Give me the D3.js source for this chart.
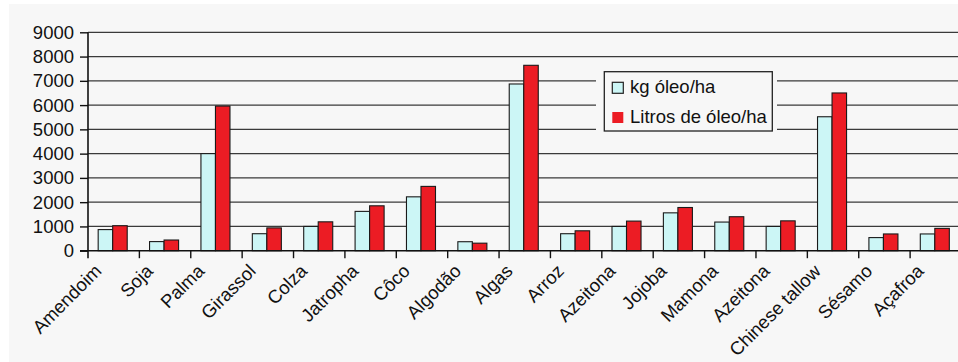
<!DOCTYPE html>
<html>
<head>
<meta charset="utf-8">
<script src="https://cdn.jsdelivr.net/npm/d3@7"></script>
<style>
  html, body { margin: 0; padding: 0; background: #ffffff; }
  svg { display: block; }
  text { font-family: "Liberation Sans", Arial, sans-serif; fill: #111; }
</style>
</head>
<body>
<svg id="chart" width="958" height="362"></svg>
<script>
// Culturas oleaginosas e rendimento de óleo por hectare
const categories = ["Amendoim", "Soja", "Palma", "Girassol", "Colza", "Jatropha", "Côco", "Algodão",
  "Algas", "Arroz", "Azeitona", "Jojoba", "Mamona", "Azeitona", "Chinese tallow", "Sésamo", "Açafroa"];
const seriesNames = ["kg óleo/ha", "Litros de óleo/ha"];
const kgOleo = [870, 375, 4000, 700, 1000, 1620, 2220, 370, 6870, 700, 1000, 1560, 1180, 1000, 5520, 540, 690];
const litrosOleo = [1030, 440, 5960, 940, 1190, 1850, 2650, 310, 7640, 820, 1220, 1780, 1400, 1230, 6500, 690, 920];
const yTicks = [0, 1000, 2000, 3000, 4000, 5000, 6000, 7000, 8000, 9000];

const colors = ["#ccf6f6", "#ec1c24"];
const series = [kgOleo, litrosOleo];

const svg = d3.select("#chart");
const W = 958, H = 362;

// fundo do gráfico
svg.append("rect").attr("x", 9).attr("y", 4).attr("width", W - 9).attr("height", H - 4)
  .attr("fill", "#f7f7f7");

const plotLeft = 88, plotRight = 961.5, plotTop = 32.3, plotBottom = 250.7;

const y = d3.scaleLinear().domain([0, 9000]).range([plotBottom, plotTop]);
const idx = categories.map((_, i) => i);
const x = d3.scaleBand().domain(idx).range([plotLeft, plotRight]).paddingInner(0).paddingOuter(0);
const xs = d3.scaleBand().domain([0, 1]).range([-1, x.bandwidth() - 1]).paddingInner(0).paddingOuter(0.77);

// linhas de grade
svg.append("g").selectAll("line").data(yTicks.filter(t => t > 0)).join("line")
  .attr("x1", plotLeft).attr("x2", plotRight)
  .attr("y1", d => y(d)).attr("y2", d => y(d))
  .attr("stroke", "#3a3a3a").attr("stroke-width", 1.3);

// eixo Y
const yAxis = d3.axisLeft(y).tickValues(yTicks).tickSize(8).tickPadding(6).tickFormat(d3.format("d"));
const gy = svg.append("g").attr("transform", `translate(${plotLeft},0)`).call(yAxis);
gy.select(".domain").remove();
gy.selectAll(".tick line").attr("stroke", "#111").attr("stroke-width", 1.4);
gy.selectAll(".tick text").attr("font-size", 18.5).attr("fill", "#111")
  .attr("font-family", "'Liberation Sans', Arial, sans-serif");
svg.append("line").attr("x1", plotLeft).attr("x2", plotLeft).attr("y1", plotTop).attr("y2", plotBottom + 7.5)
  .attr("stroke", "#111").attr("stroke-width", 1.6);

// legenda (fundo encobre as linhas de grade)
const lg = svg.append("g");
lg.append("rect").attr("x", 596).attr("y", 64).attr("width", 181).attr("height", 75).attr("fill", "#f7f7f7");
lg.append("rect").attr("x", 604.3).attr("y", 71.7).attr("width", 168).attr("height", 59.3)
  .attr("fill", "#f7f7f7").attr("stroke", "#222").attr("stroke-width", 1.3);
seriesNames.forEach((name, i) => {
  const cy = 87.8 + i * 29.7;
  lg.append("rect").attr("x", 612.3).attr("y", cy - 5.5).attr("width", 11).attr("height", 11)
    .attr("fill", colors[i]).attr("stroke", i === 0 ? "#222" : "none").attr("stroke-width", 1.2);
  lg.append("text").attr("x", 630).attr("y", cy + 5).attr("font-size", 18.5).text(name);
});

// barras
const groups = svg.append("g").selectAll("g").data(idx).join("g")
  .attr("transform", i => `translate(${x(i)},0)`);
series.forEach((vals, s) => {
  groups.append("rect")
    .attr("x", xs(s)).attr("width", xs.bandwidth())
    .attr("y", i => y(vals[i])).attr("height", i => y(0) - y(vals[i]))
    .attr("fill", colors[s]).attr("stroke", "#1a1a1a").attr("stroke-width", 1.1);
});

// eixo X
svg.append("line").attr("x1", plotLeft - 8).attr("x2", plotRight).attr("y1", plotBottom).attr("y2", plotBottom)
  .attr("stroke", "#111").attr("stroke-width", 1.6);
svg.append("g").selectAll("line").data(idx.slice(1).concat([categories.length])).join("line")
  .attr("x1", i => plotLeft + i * x.step()).attr("x2", i => plotLeft + i * x.step())
  .attr("y1", plotBottom).attr("y2", plotBottom + 7.5)
  .attr("stroke", "#111").attr("stroke-width", 1.4);

svg.append("g").selectAll("text").data(idx).join("text")
  .attr("transform", i => `translate(${x(i) + x.bandwidth() / 2 - 11},${plotBottom + 21.5}) rotate(-45)`)
  .attr("text-anchor", "end").attr("font-size", 18.5)
  .text(i => categories[i]);
</script>
</body>
</html>
